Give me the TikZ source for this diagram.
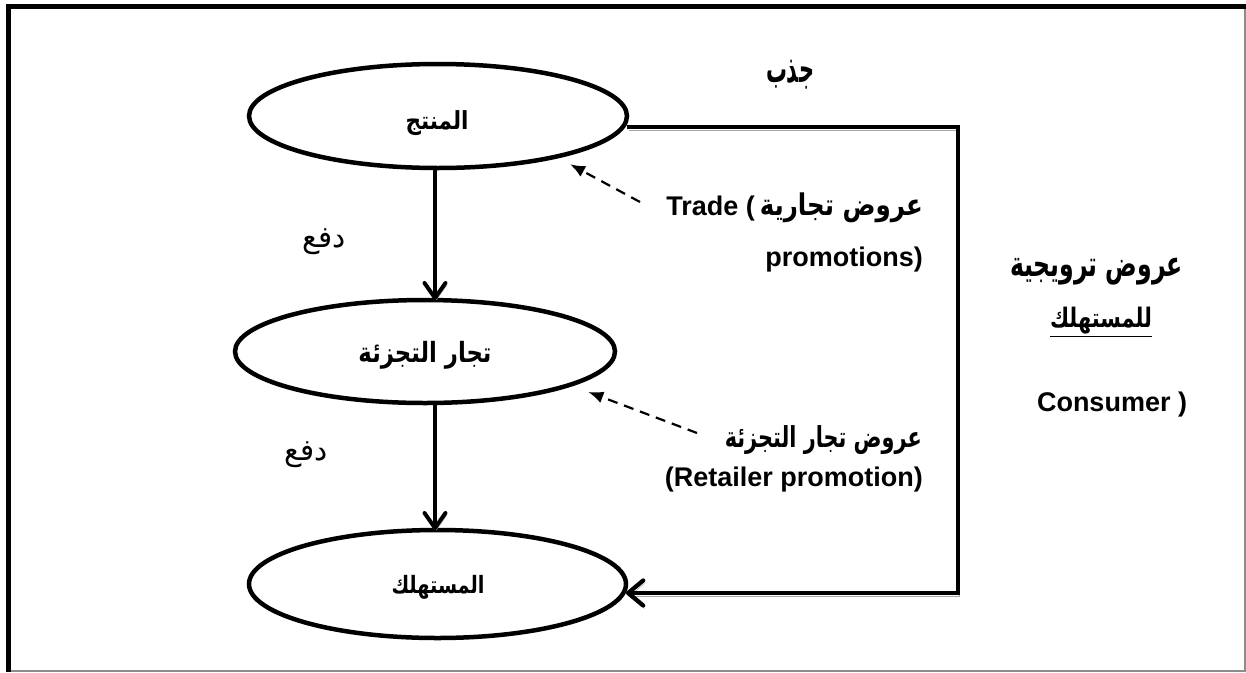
\documentclass[tikz,border=0pt]{standalone}
\usepackage{fontspec}
\usepackage{graphicx}
\setmainfont{Liberation Sans}
\newfontfamily\arabicfont[Script=Arabic]{DejaVu Sans}
\usetikzlibrary{shapes.geometric,arrows.meta,calc}
\TeXXeTstate=1
% Arabic text, bold or regular, scaled to a given box
\newcommand{\fitar}[3]{\resizebox*{#1}{#2}{\arabicfont\bfseries #3}}
\newcommand{\fitarlight}[3]{\resizebox*{#1}{#2}{\arabicfont #3}}

\tikzset{
  stage/.style={ellipse, draw, line width=4.5pt, inner sep=0pt, outer sep=0pt},
  lbl/.style={inner sep=0pt, font=\fontsize{27}{32}\selectfont\bfseries},
  pushline/.style={line width=4pt, line cap=round, line join=round,
    -{Straight Barb[length=15pt,width=21pt,line cap=round,line join=round]},
    preaction={draw=black!35, transform canvas={shift={(1.5pt,-2pt)}}}},
  pullline/.style={line width=4.3pt, line join=miter,
    -{Straight Barb[length=15pt,width=25pt,line cap=round,line join=round]},
    preaction={draw=black!35, transform canvas={shift={(1.5pt,-3pt)}}}},
  promo/.style={line width=2.2pt, dash pattern=on 10pt off 7pt,
    -{Latex[length=15pt,width=12pt]}},
}

\begin{document}
\begin{tikzpicture}[x=1pt, y=-1pt]
  \useasboundingbox (0,0) rectangle (1246,672);
  \fill[white] (0,0) rectangle (1246,672);

  % frame
  \draw[black!45, line width=1.2pt] (1245,9) -- (1245,672);
  \draw[black!45, line width=1.2pt] (11,671) -- (1246,671);
  \draw[line width=5pt] (6,6.5) -- (1246,6.5);
  \draw[line width=5pt] (8.5,4) -- (8.5,672);

  % the three stages
  \node[stage, minimum width=378pt, minimum height=104pt] (e1) at (438,116) {};
  \node[stage, minimum width=380pt, minimum height=103pt] (e2) at (425,351.5) {};
  \node[stage, minimum width=377pt, minimum height=108pt] (e3) at (437.5,584) {};
  \node[inner sep=0pt] (n1) at (437,123) {\fitar{63pt}{25pt}{\beginR المنتج\endR}};
  \node[inner sep=0pt] (n2) at (425,355) {\fitar{133pt}{28pt}{\beginR تجار التجزئة\endR}};
  \node[inner sep=0pt] (n3) at (438,587) {\fitar{93pt}{24pt}{\beginR المستهلك\endR}};

  % push arrows
  \coordinate (ax) at (435,0);
  \draw[pushline] (e1.south -| ax) -- (e2.north -| ax);
  \draw[pushline] (e2.south -| ax) -- (e3.north -| ax);
  \node[inner sep=0pt] (push1) at (324,242) {\fitarlight{43pt}{26pt}{\beginR دفع\endR}};
  \node[inner sep=0pt] (push2) at (306,455) {\fitarlight{43pt}{26pt}{\beginR دفع\endR}};

  % pull loop
  \coordinate (p1) at (958,127);
  \coordinate (p2) at (958,593);
  \draw[pullline] (e1.east |- p1) -- (p1) -- (p2) -- (e3.east |- p2);
  \node[inner sep=0pt] (pull) at (790,75) {\fitar{48pt}{29pt}{\beginR جذب\endR}};

  % promotion arrows
  \coordinate (t1) at (640,202);
  \coordinate (t2) at (697,433);
  \draw[promo, shorten >=16pt] (t1) -- (e1.-19);
  \draw[promo, shorten >=20pt] (t2) -- (e2.-13);

  % labels
  \node[lbl, anchor=east] (trade1) at (923,208)
    {Trade (\hspace{5pt}\fitar{163pt}{30pt}{\beginR عروض تجارية\endR}};
  \node[lbl, anchor=east] (trade2) at (923,260) {promotions)};
  \node[lbl, anchor=east] (ret1) at (922,440)
    {\fitar{197pt}{29pt}{\beginR عروض تجار التجزئة\endR}};
  \node[lbl, anchor=east] (ret2) at (923,480) {(Retailer promotion)};
  \node[lbl] (con1) at (1096.5,272) {\fitar{173pt}{27pt}{\beginR عروض ترويجية\endR}};
  \node[lbl] (con2) at (1101,322) {\underline{\fitar{102pt}{27pt}{\beginR للمستهلك\endR}}};
  \node[lbl] (con3) at (1112,405) {Consumer )};
\end{tikzpicture}
\end{document}
